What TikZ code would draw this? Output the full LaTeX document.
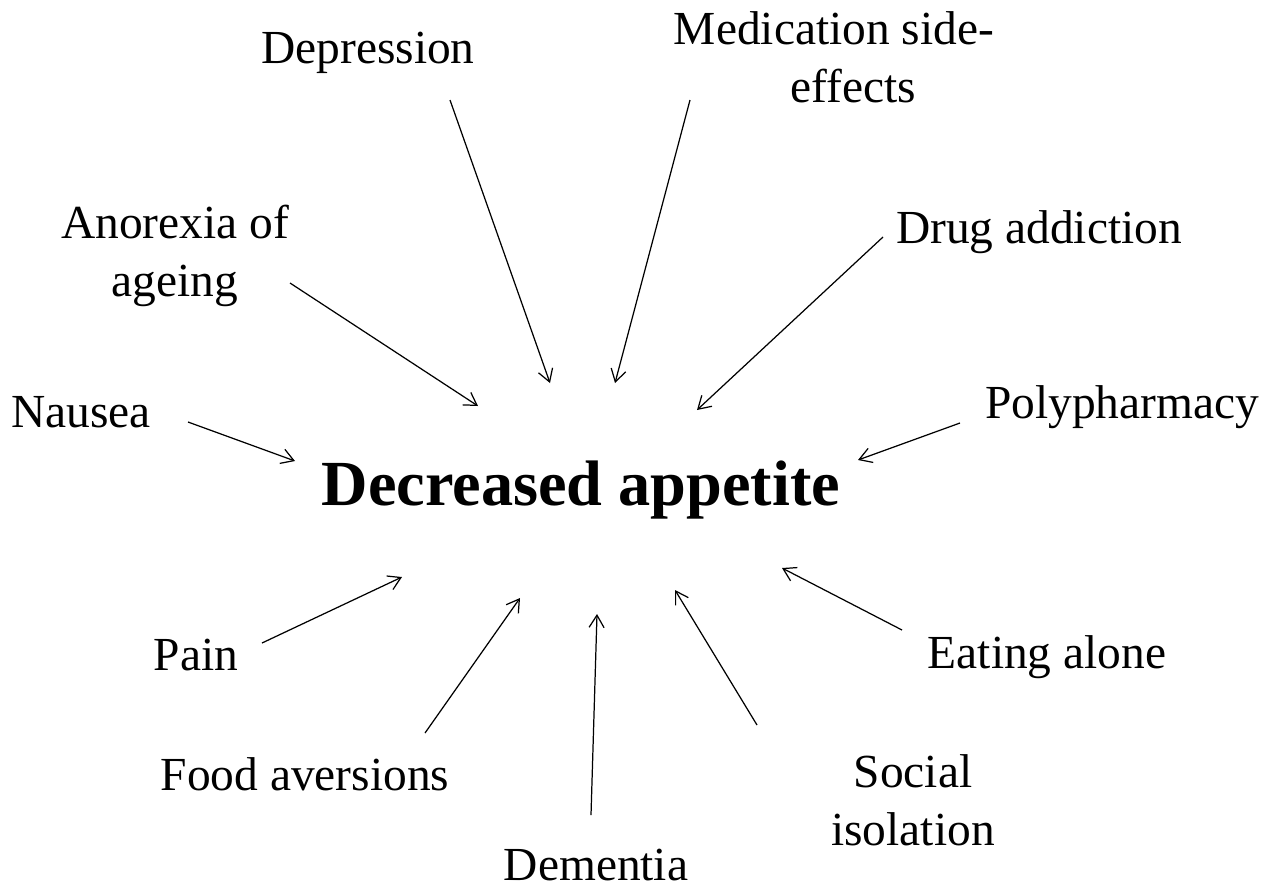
\documentclass[tikz,border=0pt]{standalone}
\usepackage{fontspec}
\setmainfont{Liberation Serif}
\usetikzlibrary{arrows.meta}
\begin{document}
\begin{tikzpicture}[x=0.02cm,y=-0.02cm,
  cause/.style={anchor=base,inner sep=0pt,align=center,font=\fontsize{27}{32.5}\selectfont},
  centre/.style={anchor=base,inner sep=0pt,font=\fontsize{36.6}{43}\selectfont\bfseries},
  link/.style={draw=black,line width=0.7pt,-{Straight Barb[length=7pt,width=8.5pt,line width=0.7pt]}}]
\useasboundingbox (0,0) rectangle (1271,894);
\node[centre] (main) at (581,505) {Decreased appetite};
\node[cause] (dep) at (368,63) {Depression};
\node[cause] (med) at (834,102) {Medication side-\\\hspace*{0.76cm}effects};
\node[cause] (drug) at (1039,243) {Drug addiction};
\node[cause] (ano) at (175,296) {Anorexia of\\ageing};
\node[cause] (nau) at (81,427) {Nausea};
\node[cause] (poly) at (1122,418) {Polypharmacy};
\node[cause] (pain) at (196,670) {Pain};
\node[cause] (eat) at (1047,668) {Eating alone};
\node[cause] (food) at (305,790) {Food aversions};
\node[cause] (soc) at (913,845) {Social\\isolation};
\node[cause] (dem) at (596,880) {Dementia};
% arrow ends
\coordinate (dep1) at (450,100);  \coordinate (dep2) at (550,383);
\coordinate (med1) at (690,100);  \coordinate (med2) at (615,383);
\coordinate (drug1) at (883,237); \coordinate (drug2) at (697,410);
\coordinate (ano1) at (290,283);  \coordinate (ano2) at (478,406);
\coordinate (nau1) at (188,422);  \coordinate (nau2) at (295,461);
\coordinate (poly1) at (960,423); \coordinate (poly2) at (858,460);
\coordinate (pain1) at (262,643); \coordinate (pain2) at (402,577);
\coordinate (food1) at (425,733); \coordinate (food2) at (520,598);
\coordinate (dem1) at (591,815);  \coordinate (dem2) at (597,614);
\coordinate (soc1) at (757,725);  \coordinate (soc2) at (675,590);
\coordinate (eat1) at (902,630);  \coordinate (eat2) at (782,568);
\draw[link] (dep1) -- (dep2);
\draw[link] (med1) -- (med2);
\draw[link] (drug1) -- (drug2);
\draw[link] (ano1) -- (ano2);
\draw[link] (nau1) -- (nau2);
\draw[link] (poly1) -- (poly2);
\draw[link] (pain1) -- (pain2);
\draw[link] (food1) -- (food2);
\draw[link] (dem1) -- (dem2);
\draw[link] (soc1) -- (soc2);
\draw[link] (eat1) -- (eat2);
\end{tikzpicture}
\end{document}
